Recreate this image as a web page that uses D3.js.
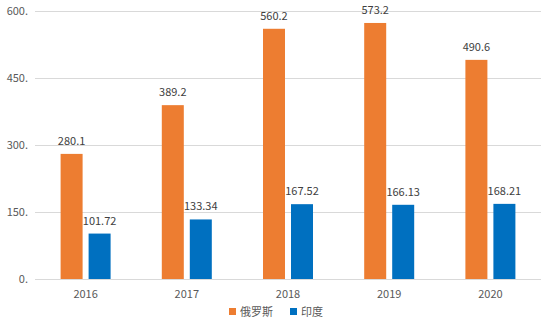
<!DOCTYPE html>
<html><head><meta charset="utf-8">
<script src="https://cdn.jsdelivr.net/npm/d3@7"></script>
<style>body{margin:0;background:#fff}text{font-family:"Noto Sans CJK SC","Liberation Sans",sans-serif;}</style>
</head><body>
<svg id="c" width="543" height="323"></svg>
<script>
const years = ["2016","2017","2018","2019","2020"];
const russia = [280.1, 389.2, 560.2, 573.2, 490.6];
const india = [101.72, 133.34, 167.52, 166.13, 168.21];
const seriesNames = ["俄罗斯","印度"];
const yTicks = [0,150,300,450,600];
const tickLabels = ["0.","150.","300.","450.","600."];
const colors = ["#ED7D31","#0070C0"];

(function(){
const svg = d3.select("#c");
const pLeft = 35, pRight = 541, pTop = 11, pBottom = 279;
const x = d3.scaleBand().domain(years).range([pLeft, pRight]).padding(0);
const y = d3.scaleLinear().domain([0,600]).range([pBottom, pTop]);
const barW = 22, gap = 6;

svg.append("g").selectAll("line").data(yTicks).join("line")
  .attr("x1", pLeft).attr("x2", pRight)
  .attr("y1", d=>y(d)+0.5).attr("y2", d=>y(d)+0.5)
  .attr("stroke", "#d9d9d9").attr("stroke-width", 1);

svg.append("g").selectAll("text").data(yTicks).join("text")
  .attr("x", 28).attr("y", d=>y(d)+4)
  .attr("text-anchor","end").attr("font-size", 11).attr("fill","#595959")
  .text((d,i)=>tickLabels[i]);

svg.append("g").selectAll("text").data(years).join("text")
  .attr("x", d=>x(d)+x.bandwidth()/2).attr("y", 298)
  .attr("text-anchor","middle").attr("font-size", 11).attr("fill","#595959")
  .text(d=>d);

const series = [russia, india];
series.forEach((vals, si) => {
  const off = si === 0 ? -(barW + gap/2) : gap/2;
  const g = svg.append("g");
  g.selectAll("rect").data(vals).join("rect")
    .attr("x", (d,i)=>x(years[i])+x.bandwidth()/2+off)
    .attr("y", d=>y(d)).attr("width", barW).attr("height", d=>pBottom-y(d))
    .attr("fill", colors[si]);
  g.selectAll("text").data(vals).join("text")
    .attr("x", (d,i)=>x(years[i])+x.bandwidth()/2+off+barW/2)
    .attr("y", d=>y(d)-9)
    .attr("text-anchor","middle").attr("font-size", 11).attr("fill","#404040")
    .text(d=>d);
});

const leg = svg.append("g");
const legItems = [{x:229, name:seriesNames[0], c:colors[0]},{x:290, name:seriesNames[1], c:colors[1]}];
legItems.forEach(it=>{
  leg.append("rect").attr("x", it.x).attr("y", 308).attr("width", 7).attr("height", 7).attr("fill", it.c);
  leg.append("text").attr("x", it.x+11).attr("y", 316).attr("font-size", 11).attr("fill","#595959").text(it.name);
});
})();
</script>
</body></html>
